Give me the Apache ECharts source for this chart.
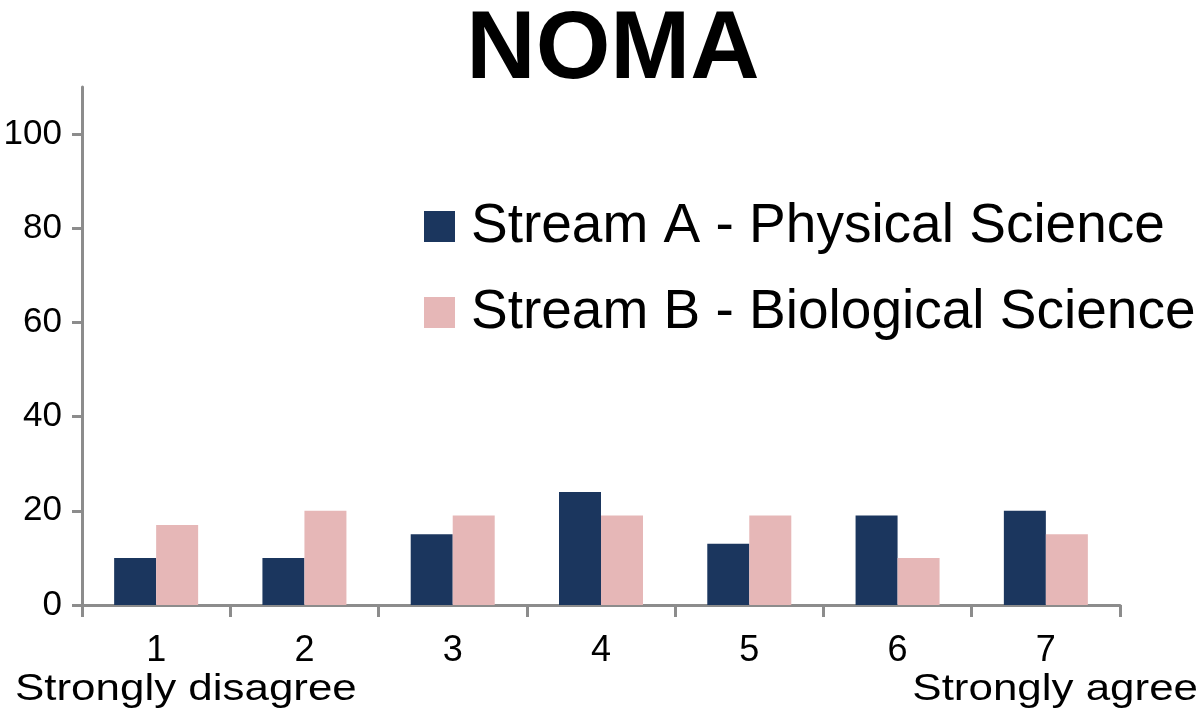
<!DOCTYPE html>
<html>
<head>
<meta charset="utf-8">
<script src="https://cdn.jsdelivr.net/npm/echarts@6/dist/echarts.min.js"></script>
<style>
  html, body { margin: 0; padding: 0; background: #fff; }
  #main { width: 1200px; height: 717px; }
</style>
</head>
<body>
<div id="main"></div>
<script>
// data
const categories = ['1', '2', '3', '4', '5', '6', '7'];
const streamA = [10, 10, 15, 24, 13, 19, 20];
const streamB = [17, 20, 19, 19, 19, 10, 15];
const yTicks = [0, 20, 40, 60, 80, 100];
const seriesNames = ['Stream A - Physical Science', 'Stream B - Biological Science'];

const font = 'Liberation Sans, Arial, sans-serif';
const axisGrey = '#8c8c8c';

const myChart = echarts.init(document.getElementById('main'));

const option = {
    backgroundColor: '#fff',
    animation: false,
    title: {
        text: 'NOMA',
        left: 608,
        top: -1,
        textAlign: 'center',
        textStyle: { fontFamily: font, fontSize: 96, fontWeight: 'bold', color: '#000' }
    },
    legend: {
        orient: 'vertical',
        left: 419,
        top: 194,
        itemWidth: 31,
        itemHeight: 31,
        itemGap: 31,
        icon: 'rect',
        data: seriesNames,
        textStyle: {
            fontFamily: font,
            fontSize: 55,
            lineHeight: 55,
            color: '#000',
            padding: [0, 0, 0, 11]
        }
    },
    grid: { left: 82, right: 80, top: 87, bottom: 112, containLabel: false },
    xAxis: {
        type: 'category',
        data: categories,
        axisLine: { lineStyle: { color: axisGrey, width: 3 } },
        axisTick: { show: true, length: 12, lineStyle: { color: axisGrey, width: 3 } },
        axisLabel: { margin: 28, fontFamily: font, fontSize: 36, color: '#000' },
        splitLine: { show: false }
    },
    yAxis: {
        type: 'value',
        min: 0,
        max: 110,
        interval: 20,
        axisLine: { show: true, lineStyle: { color: axisGrey, width: 3 } },
        axisTick: { show: true, length: 10, customValues: yTicks, lineStyle: { color: axisGrey, width: 3 } },
        axisLabel: { margin: 20, customValues: yTicks, fontFamily: font, fontSize: 35, color: '#000' },
        splitLine: { show: false }
    },
    series: [
        {
            name: seriesNames[0],
            type: 'bar',
            data: streamA,
            barWidth: 42,
            barGap: '0%',
            itemStyle: { color: '#1b365e' }
        },
        {
            name: seriesNames[1],
            type: 'bar',
            data: streamB,
            barWidth: 42,
            itemStyle: { color: '#e6b7b7' }
        }
    ],
    graphic: [
        {
            type: 'text',
            x: 15,
            y: 690,
            scaleX: 1.22,
            style: { text: 'Strongly disagree', font: '36px ' + font, fill: '#000', align: 'left', verticalAlign: 'middle' }
        },
        {
            type: 'text',
            x: 1198,
            y: 690,
            scaleX: 1.22,
            style: { text: 'Strongly agree', font: '36px ' + font, fill: '#000', align: 'right', verticalAlign: 'middle' }
        }
    ]
};

myChart.setOption(option);
</script>
</body>
</html>
